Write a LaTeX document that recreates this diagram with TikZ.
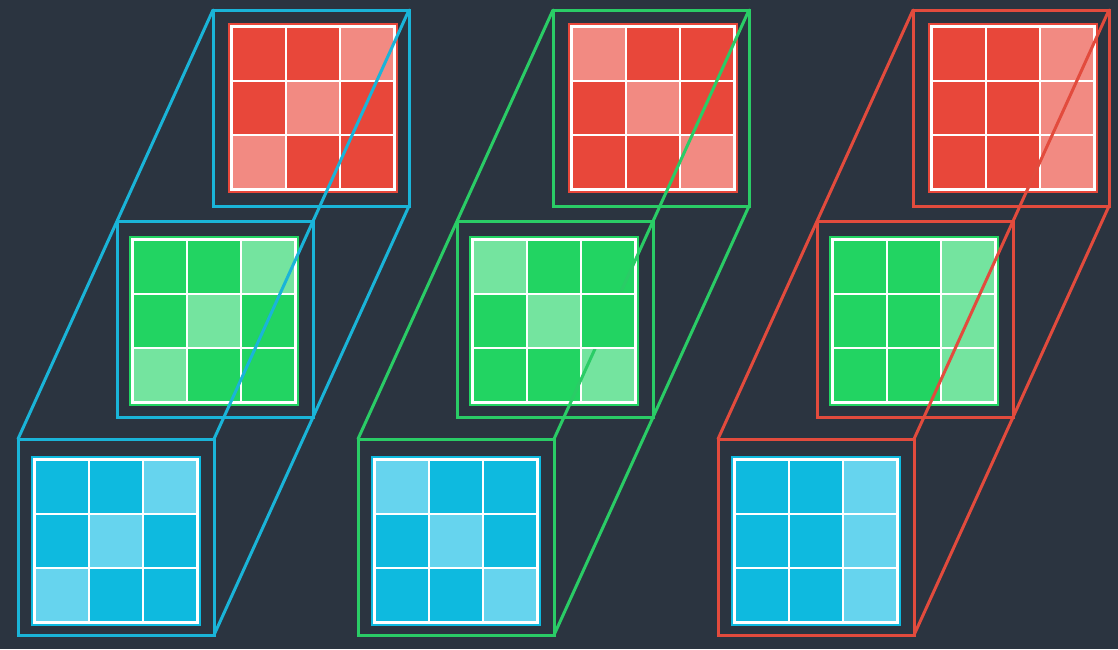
\documentclass[tikz,border=0pt]{standalone}
\usepackage{tikz}
\definecolor{bg}{HTML}{2B3440}
\definecolor{blueD}{HTML}{0EBADF}
\definecolor{blueL}{HTML}{66D4EE}
\definecolor{greenD}{HTML}{22D462}
\definecolor{greenL}{HTML}{74E49F}
\definecolor{redD}{HTML}{E8473A}
\definecolor{redL}{HTML}{F28A82}
\definecolor{blueF}{HTML}{1AB4D8}
\definecolor{greenF}{HTML}{2ACC66}
\definecolor{redF}{HTML}{E24B3D}
\tikzset{
  frame/.style={draw=#1, line width=3pt, minimum width=196pt, minimum height=196pt,
    inner sep=0pt, outer sep=0pt, anchor=north west},
  link/.style={draw=#1, line width=3pt, line cap=round},
  cellbox/.style={draw=white, line width=2.2pt}
}
\newcommand\cellgrid[5]{%
  \fill[#3] (#1,#2) rectangle ++(170,170);
  \foreach \v [count=\i from 0] in {#5}{%
    \pgfmathtruncatemacro\gr{\i/3}%
    \pgfmathtruncatemacro\gc{mod(\i,3)}%
    \ifnum\v=1 \def\cf{#4}\else\def\cf{#3}\fi
    \filldraw[cellbox, fill=\cf] ({#1+3.5+\gc*54.33},{#2+3.5+\gr*54.33}) rectangle ++(54.33,54.33);
  }%
}
\begin{document}
\begin{tikzpicture}[x=1pt,y=-1pt]
\fill[bg] (0,0) rectangle (1118,649);
\useasboundingbox (0,0) rectangle (1118,649);
% frames
\foreach \g/\dx/\col in {1/0/blueF, 2/340/greenF, 3/700/redF}{
  \node[frame=\col] (b\g) at (18+\dx,439) {};
  \node[frame=\col] (m\g) at (117+\dx,221) {};
  \node[frame=\col] (t\g) at (213+\dx,10) {};
}
% grids group 1
\cellgrid{31}{456}{blueD}{blueL}{0,0,1,0,1,0,1,0,0}
\cellgrid{129}{236}{greenD}{greenL}{0,0,1,0,1,0,1,0,0}
\cellgrid{228}{23}{redD}{redL}{0,0,1,0,1,0,1,0,0}
% grids group 2
\cellgrid{371}{456}{blueD}{blueL}{1,0,0,0,1,0,0,0,1}
\cellgrid{469}{236}{greenD}{greenL}{1,0,0,0,1,0,0,0,1}
\cellgrid{568}{23}{redD}{redL}{1,0,0,0,1,0,0,0,1}
% grids group 3
\cellgrid{731}{456}{blueD}{blueL}{0,0,1,0,0,1,0,0,1}
\cellgrid{829}{236}{greenD}{greenL}{0,0,1,0,0,1,0,0,1}
\cellgrid{928}{23}{redD}{redL}{0,0,1,0,0,1,0,0,1}
% connectors
\foreach \g/\col in {1/blueF, 2/greenF, 3/redF}{
  \draw[link=\col] (b\g.north west) -- (t\g.north west);
  \draw[link=\col] (b\g.north east) -- (t\g.north east);
  \draw[link=\col] (b\g.south east) -- (t\g.south east);
}
% group 2: middle row cell covers the link
\filldraw[cellbox, fill=greenD] ({469+3.5+2*54.33},{236+3.5+54.33}) rectangle ++(54.33,54.33);
\end{tikzpicture}
\end{document}
